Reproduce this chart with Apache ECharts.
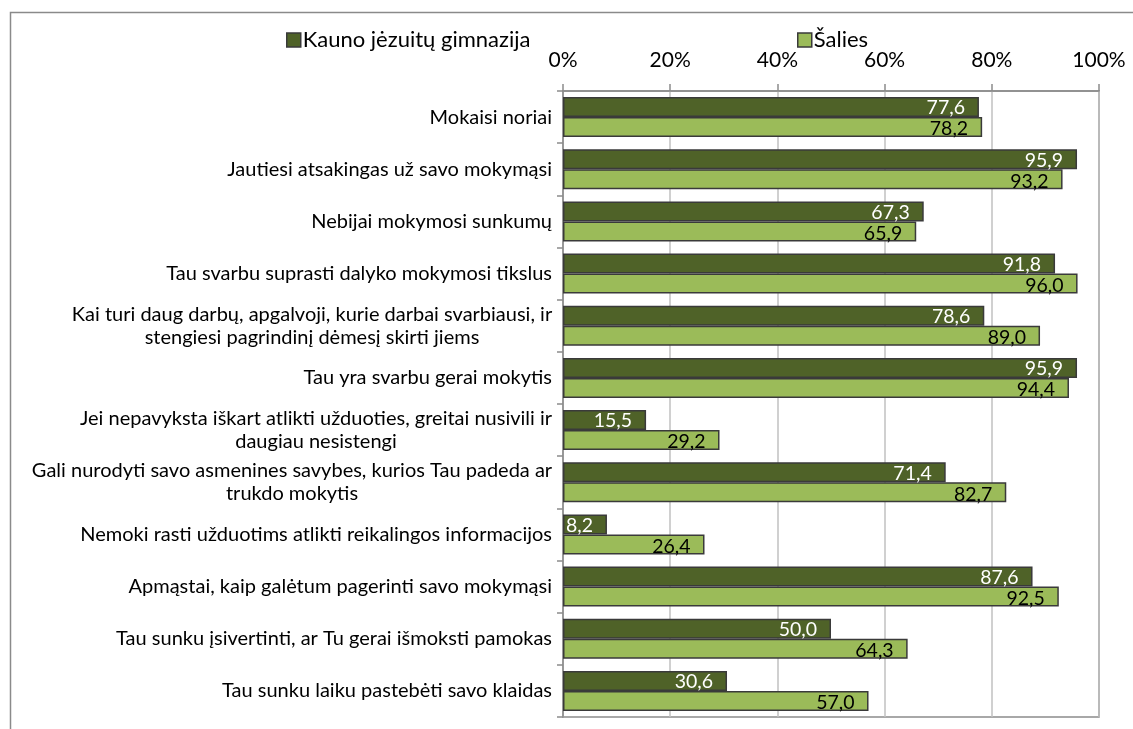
<!DOCTYPE html>
<html><head><meta charset="utf-8">
<script src="https://cdn.jsdelivr.net/npm/echarts@6/dist/echarts.min.js"></script>
<style>html,body{margin:0;padding:0;background:#fff}#c{width:1133px;height:729px}</style>
</head><body><div id="c"></div>
<script>
const categories = [
  'Mokaisi noriai',
  'Jautiesi atsakingas už savo mokymąsi',
  'Nebijai mokymosi sunkumų',
  'Tau svarbu suprasti dalyko mokymosi tikslus',
  'Kai turi daug darbų, apgalvoji, kurie darbai svarbiausi, ir\nstengiesi pagrindinį dėmesį skirti jiems',
  'Tau yra svarbu gerai mokytis',
  'Jei nepavyksta iškart atlikti užduoties, greitai nusivili ir\ndaugiau nesistengi',
  'Gali nurodyti savo asmenines savybes, kurios Tau padeda ar\ntrukdo mokytis',
  'Nemoki rasti užduotims atlikti reikalingos informacijos',
  'Apmąstai, kaip galėtum pagerinti savo mokymąsi',
  'Tau sunku įsivertinti, ar Tu gerai išmoksti pamokas',
  'Tau sunku laiku pastebėti savo klaidas'
];
const seriesNames = ['Kauno jėzuitų gimnazija', 'Šalies'];
const kaunoValues = [77.6, 95.9, 67.3, 91.8, 78.6, 95.9, 15.5, 71.4, 8.2, 87.6, 50.0, 30.6];
const saliesValues = [78.2, 93.2, 65.9, 96.0, 89.0, 94.4, 29.2, 82.7, 26.4, 92.5, 64.3, 57.0];
const xTicks = [0, 20, 40, 60, 80, 100];

const FONT = 'Lato';
const labelFontSize = 20;
const cv = document.createElement('canvas').getContext('2d');
cv.font = labelFontSize + 'px ' + FONT;
const catData = categories.map(c => {
  if (c.indexOf('\n') < 0) return c;
  const w = Math.max(...c.split('\n').map(l => cv.measureText(l).width));
  return { value: c, textStyle: { align: 'center', padding: [0, Math.round(w), 0, 0] } };
});

const chart = echarts.init(document.getElementById('c'), null, { renderer: 'canvas' });
const fmt = p => p.value.toFixed(1).replace('.', ',');
const legendCommon = {
  top: 24, itemWidth: 14, itemHeight: 14, icon: 'rect',
  itemStyle: { borderColor: '#3a3a3a', borderWidth: 1.5 },
  textStyle: { fontFamily: FONT, fontSize: 22, color: '#000', padding: [0, 0, 0, -3] }
};
chart.setOption({
  animation: false,
  textStyle: { fontFamily: FONT },
  graphic: [{
    type: 'rect', left: 8, top: 10, shape: { width: 1300, height: 900 },
    style: { fill: 'none', stroke: '#8a8a8a', lineWidth: 1.5 }, silent: true
  }],
  legend: [
    Object.assign({ data: [seriesNames[0]], left: 281 }, legendCommon),
    Object.assign({ data: [seriesNames[1]], left: 792 }, legendCommon)
  ],
  grid: { left: 563, right: 34, top: 91, bottom: 12, show: true, borderColor: '#8c8c8c', borderWidth: 1.5 },
  xAxis: {
    type: 'value', position: 'top', min: 0, max: 100, interval: 20,
    axisLine: { show: true, lineStyle: { color: '#8c8c8c', width: 1.5 } },
    axisTick: { show: true, length: 7, lineStyle: { color: '#8c8c8c', width: 1.5 } },
    axisLabel: { formatter: '{value}%', fontSize: 21, color: '#000', margin: 20 },
    splitLine: { show: true, lineStyle: { color: '#c0c0c0', width: 1.5 } }
  },
  yAxis: {
    type: 'category', inverse: true, data: catData,
    axisLine: { show: true, lineStyle: { color: '#8c8c8c', width: 1.5 } },
    axisTick: { show: true, length: 6, lineStyle: { color: '#8c8c8c', width: 1.5 } },
    axisLabel: { fontSize: labelFontSize, color: '#000', margin: 11, lineHeight: 23 }
  },
  series: [
    { name: seriesNames[0], type: 'bar', data: kaunoValues, barWidth: 20, barGap: '0%',
      itemStyle: { color: '#4F6228', borderColor: '#3a3a3a', borderWidth: 1.5 },
      label: { show: true, position: 'insideRight', formatter: fmt, color: '#fff', fontSize: 19.5, distance: 14, offset: [0, 1] } },
    { name: seriesNames[1], type: 'bar', data: saliesValues, barWidth: 20,
      itemStyle: { color: '#9BBB59', borderColor: '#3a3a3a', borderWidth: 1.5 },
      label: { show: true, position: 'insideRight', formatter: fmt, color: '#000', fontSize: 19.5, distance: 14, offset: [0, 2] } }
  ]
});
</script></body></html>
